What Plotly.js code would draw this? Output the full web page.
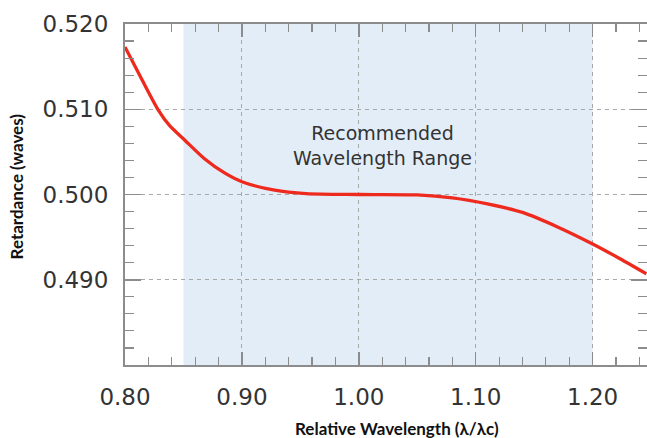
<!DOCTYPE html>
<html>
<head>
<meta charset="utf-8">
<script src="https://cdn.plot.ly/plotly-3.0.1.min.js"></script>
<style>html,body{margin:0;padding:0;background:#fff;}#chart{width:647px;height:438px;}</style>
</head>
<body>
<div id="chart"></div>
<script>
// Data
const wavelength = [0.800, 0.814, 0.8285, 0.838, 0.851, 0.868, 0.8855, 0.900, 0.928, 0.955, 1.000, 1.050, 1.080, 1.110, 1.140, 1.170, 1.200, 1.223, 1.246];
const retardance = [0.5173, 0.5136, 0.5099, 0.5081, 0.5064, 0.5042, 0.5025, 0.5015, 0.5005, 0.5001, 0.5000, 0.49995, 0.4996, 0.4989, 0.4979, 0.4962, 0.4942, 0.4925, 0.4907];
const rangeStart = 0.85;
const rangeEnd = 1.20;
const xTickVals = [0.80, 0.90, 1.00, 1.10, 1.20];
const xTickText = ['0.80', '0.90', '1.00', '1.10', '1.20'];
const yTickVals = [0.490, 0.500, 0.510, 0.520];
const yTickText = ['0.490', '0.500', '0.510', '0.520'];
const noteText = 'Recommended<br>Wavelength Range';
const xTitle = 'Relative Wavelength (λ/λc)';
const yTitle = 'Retardance (waves)';

const axisCol = '#8c8c8c';
const gridCol = '#a8a8a8';
const tickFont = {family: 'DejaVu Sans', size: 23, color: '#333333'};

const trace = {
  x: wavelength, y: retardance, type: 'scatter', mode: 'lines',
  line: {color: '#ee2a1f', width: 3.3, shape: 'spline', smoothing: 0.8},
  hoverinfo: 'skip'
};

const layout = {
  width: 647, height: 438,
  margin: {l: 125, r: 0, t: 24, b: 73},
  paper_bgcolor: '#ffffff', plot_bgcolor: '#ffffff',
  showlegend: false,
  xaxis: {
    range: [0.8, 1.2465], tickvals: xTickVals, ticktext: xTickText,
    ticks: 'inside', ticklen: 13, tickwidth: 1.5, tickcolor: axisCol,
    showline: true, linecolor: axisCol, linewidth: 2, mirror: 'ticks',
    showgrid: true, gridcolor: gridCol, gridwidth: 1, griddash: '4px,4px',
    zeroline: false, tickfont: tickFont, ticklabelstandoff: 10,
    minor: {dtick: 0.02, tick0: 0.8, ticks: 'inside', ticklen: 8, tickwidth: 1.2, tickcolor: axisCol, showgrid: false}
  },
  yaxis: {
    range: [0.480, 0.520], tickvals: yTickVals, ticktext: yTickText,
    ticks: 'inside', ticklen: 16, tickwidth: 1.5, tickcolor: axisCol,
    showline: true, linecolor: axisCol, linewidth: 2, mirror: 'ticks',
    showgrid: true, gridcolor: gridCol, gridwidth: 1, griddash: '4px,4px',
    zeroline: false, tickfont: tickFont, ticklabelstandoff: 10,
    minor: {dtick: 0.002, tick0: 0.48, ticks: 'inside', ticklen: 9, tickwidth: 1.2, tickcolor: axisCol, showgrid: false}
  },
  shapes: [{
    type: 'rect', xref: 'x', yref: 'paper', x0: rangeStart, x1: rangeEnd, y0: 0, y1: 1,
    fillcolor: '#e3edf8', line: {width: 0}, layer: 'below'
  }],
  annotations: [
    {text: noteText, xref: 'x', yref: 'y', x: 1.02, y: 0.5058, showarrow: false,
     font: {family: 'DejaVu Sans', size: 19, color: '#333333'}, align: 'center'},
    {text: '<b>' + xTitle + '</b>', xref: 'paper', yref: 'paper', x: 0.521, y: -0.185,
     xanchor: 'center', yanchor: 'middle', showarrow: false,
     font: {family: 'Lato', size: 17, color: '#111111'}},
    {text: '<b>' + yTitle + '</b>', xref: 'paper', yref: 'paper', x: -0.206, y: 0.525,
     xanchor: 'center', yanchor: 'middle', textangle: -90, showarrow: false,
     font: {family: 'Lato', size: 17, color: '#111111'}}
  ]
};

Plotly.newPlot('chart', [trace], layout, {staticPlot: true, displayModeBar: false});
</script>
</body>
</html>
